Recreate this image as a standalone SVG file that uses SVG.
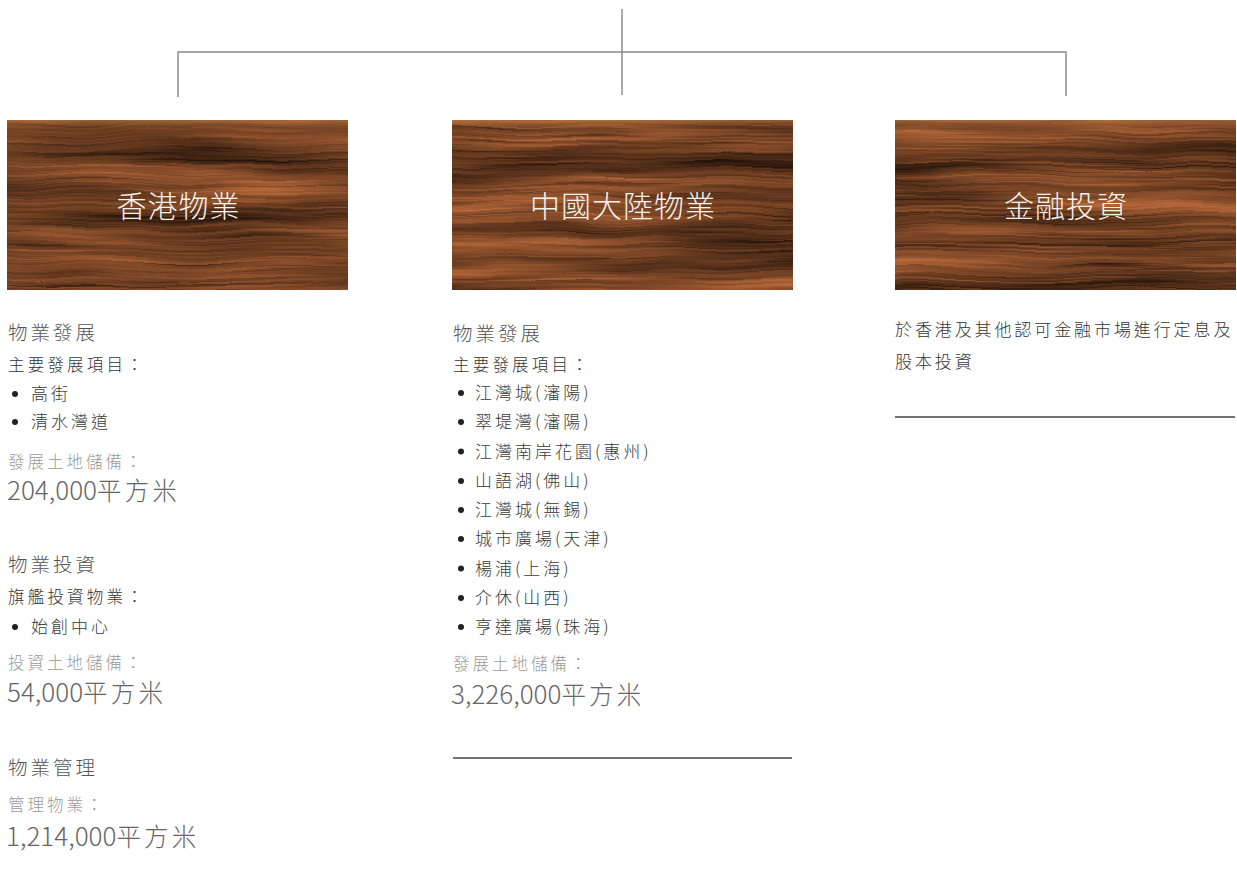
<svg xmlns="http://www.w3.org/2000/svg" width="1237" height="893" viewBox="0 0 1237 893">
<defs>
<style>
text{font-family:"Noto Sans CJK TC","Noto Sans CJK SC",sans-serif;font-weight:300}
.title{fill:#f6f1ec;font-size:30px;letter-spacing:1px;text-anchor:middle}
.h{fill:#555;font-size:19.5px;letter-spacing:3px}
.b{fill:#333;font-size:16.5px;letter-spacing:3.2px}
.fin{fill:#333;font-size:17px;letter-spacing:2.9px}
.li{fill:#3a3a3a;font-size:17px;letter-spacing:3px}
.lbl{fill:#9a9a9a;font-size:16.5px;letter-spacing:3px}
.num{fill:#666;font-size:26px}
.num tspan{letter-spacing:3.2px;font-size:24.5px}
.conn{stroke:#8c8c8c;stroke-width:1.5;fill:none}
.rule{stroke:#444;stroke-width:1.4}
.dot{fill:#222}
</style>
<clipPath id="c1"><rect x="7" y="120" width="341" height="170"/></clipPath>
<clipPath id="c2"><rect x="452" y="120" width="341" height="170"/></clipPath>
<clipPath id="c3"><rect x="895" y="120" width="341" height="170"/></clipPath>
<filter id="wood1" x="-10%" y="-20%" width="120%" height="140%" color-interpolation-filters="sRGB">
<feTurbulence type="fractalNoise" baseFrequency="0.008 0.015" numOctaves="2" seed="7" result="w"/>
<feTurbulence type="fractalNoise" baseFrequency="0.003 0.04" numOctaves="3" seed="4" result="broad"/>
<feTurbulence type="fractalNoise" baseFrequency="0.006 0.45" numOctaves="2" seed="9" result="fine"/>
<feComposite in="broad" in2="fine" operator="arithmetic" k2="0.7" k3="0.4" k4="-0.05" result="mix"/>
<feDisplacementMap in="mix" in2="w" scale="14" xChannelSelector="R" yChannelSelector="G" result="d"/>
<feColorMatrix in="d" type="matrix" values="0.95 0 0 0 0.01  0.55 0 0 0 0  0.32 0 0 0 -0.01  0 0 0 0 1"/>
</filter>
<filter id="wood2" x="-10%" y="-20%" width="120%" height="140%" color-interpolation-filters="sRGB">
<feTurbulence type="fractalNoise" baseFrequency="0.008 0.015" numOctaves="2" seed="17" result="w"/>
<feTurbulence type="fractalNoise" baseFrequency="0.003 0.04" numOctaves="3" seed="11" result="broad"/>
<feTurbulence type="fractalNoise" baseFrequency="0.006 0.45" numOctaves="2" seed="19" result="fine"/>
<feComposite in="broad" in2="fine" operator="arithmetic" k2="0.7" k3="0.4" k4="-0.05" result="mix"/>
<feDisplacementMap in="mix" in2="w" scale="14" xChannelSelector="R" yChannelSelector="G" result="d"/>
<feColorMatrix in="d" type="matrix" values="0.95 0 0 0 0.01  0.55 0 0 0 0  0.32 0 0 0 -0.01  0 0 0 0 1"/>
</filter>
<filter id="wood3" x="-10%" y="-20%" width="120%" height="140%" color-interpolation-filters="sRGB">
<feTurbulence type="fractalNoise" baseFrequency="0.008 0.015" numOctaves="2" seed="29" result="w"/>
<feTurbulence type="fractalNoise" baseFrequency="0.003 0.04" numOctaves="3" seed="23" result="broad"/>
<feTurbulence type="fractalNoise" baseFrequency="0.006 0.45" numOctaves="2" seed="31" result="fine"/>
<feComposite in="broad" in2="fine" operator="arithmetic" k2="0.7" k3="0.4" k4="-0.05" result="mix"/>
<feDisplacementMap in="mix" in2="w" scale="14" xChannelSelector="R" yChannelSelector="G" result="d"/>
<feColorMatrix in="d" type="matrix" values="0.95 0 0 0 0.01  0.55 0 0 0 0  0.32 0 0 0 -0.01  0 0 0 0 1"/>
</filter>
<linearGradient id="edge" x1="0" y1="0" x2="0" y2="1">
<stop offset="0" stop-color="#c8864a" stop-opacity="0.6"/>
<stop offset="0.05" stop-color="#c07a40" stop-opacity="0"/>
<stop offset="1" stop-color="#c07a40" stop-opacity="0"/>
</linearGradient>
</defs>
<rect width="1237" height="893" fill="#fff"/>

<g id="connectors">
<line class="conn" x1="622" y1="9" x2="622" y2="95"/>
<polyline class="conn" points="178,97 178,52 1066,52 1066,96"/>
</g>

<g id="node-hk">
<rect x="7" y="120" width="341" height="170" fill="#7a4528" filter="url(#wood1)" clip-path="url(#c1)"/>
<rect x="7" y="120" width="341" height="170" fill="url(#edge)"/>
<text class="title" x="178.5" y="217">香港物業</text>
<text class="h" x="8" y="340">物業發展</text>
<text class="b" x="8" y="371">主要發展項目：</text>
<circle class="dot" cx="15" cy="394" r="3"/>
<text class="li" x="31" y="400">高街</text>
<circle class="dot" cx="15" cy="422" r="3"/>
<text class="li" x="31" y="428">清水灣道</text>
<text class="lbl" x="8" y="468">發展土地儲備：</text>
<text class="num" x="7" y="500">204,000<tspan>平方米</tspan></text>
<text class="h" x="8" y="572">物業投資</text>
<text class="b" x="8" y="603">旗艦投資物業：</text>
<circle class="dot" cx="15" cy="627" r="3"/>
<text class="li" x="31" y="633">始創中心</text>
<text class="lbl" x="8" y="669">投資土地儲備：</text>
<text class="num" x="7" y="702">54,000<tspan>平方米</tspan></text>
<text class="h" x="8" y="775">物業管理</text>
<text class="lbl" x="8" y="811">管理物業：</text>
<text class="num" x="6" y="846">1,214,000<tspan>平方米</tspan></text>
</g>

<g id="node-china">
<rect x="452" y="120" width="341" height="170" fill="#7a4528" filter="url(#wood2)" clip-path="url(#c2)"/>
<rect x="452" y="120" width="341" height="170" fill="url(#edge)"/>
<text class="title" x="623" y="217">中國大陸物業</text>
<text class="h" x="453" y="341">物業發展</text>
<text class="b" x="453" y="371">主要發展項目：</text>
<circle class="dot" cx="461" cy="393" r="3"/><text class="li" x="475" y="399">江灣城(瀋陽)</text>
<circle class="dot" cx="461" cy="422" r="3"/><text class="li" x="475" y="428">翠堤灣(瀋陽)</text>
<circle class="dot" cx="461" cy="451.5" r="3"/><text class="li" x="475" y="457.5">江灣南岸花園(惠州)</text>
<circle class="dot" cx="461" cy="481" r="3"/><text class="li" x="475" y="487">山語湖(佛山)</text>
<circle class="dot" cx="461" cy="510" r="3"/><text class="li" x="475" y="516">江灣城(無錫)</text>
<circle class="dot" cx="461" cy="539" r="3"/><text class="li" x="475" y="545">城市廣場(天津)</text>
<circle class="dot" cx="461" cy="568.5" r="3"/><text class="li" x="475" y="574.5">楊浦(上海)</text>
<circle class="dot" cx="461" cy="598" r="3"/><text class="li" x="475" y="604">介休(山西)</text>
<circle class="dot" cx="461" cy="627" r="3"/><text class="li" x="475" y="633">亨達廣場(珠海)</text>
<text class="lbl" x="453" y="670">發展土地儲備：</text>
<text class="num" x="451" y="704">3,226,000<tspan>平方米</tspan></text>
<line class="rule" x1="453" y1="758" x2="792" y2="758"/>
</g>

<g id="node-finance">
<rect x="895" y="120" width="341" height="170" fill="#7a4528" filter="url(#wood3)" clip-path="url(#c3)"/>
<rect x="895" y="120" width="341" height="170" fill="url(#edge)"/>
<text class="title" x="1066" y="217">金融投資</text>
<text class="fin" x="895" y="336">於香港及其他認可金融市場進行定息及</text>
<text class="fin" x="895" y="368">股本投資</text>
<line class="rule" x1="895" y1="417" x2="1235" y2="417"/>
</g>
</svg>
